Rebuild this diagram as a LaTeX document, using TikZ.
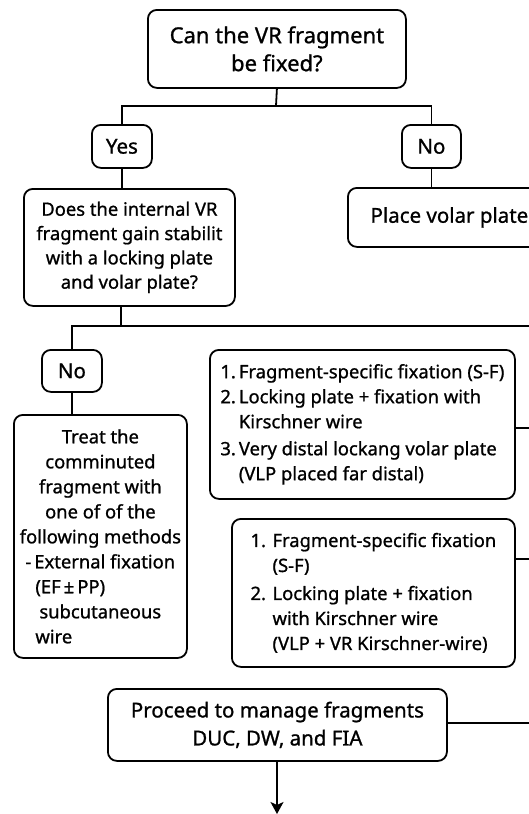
\documentclass[tikz,border=0pt]{standalone}
\usepackage{fontspec}
\setmainfont{Noto Sans}[FakeBold=1.0]
\usetikzlibrary{arrows.meta}
\begin{document}
\begin{tikzpicture}[x=1pt,y=-1pt,
  box/.style={draw, line width=1.8pt, rounded corners=9pt, inner sep=0pt, anchor=north west},
  link/.style={line width=1.8pt},
  big/.style={font=\fontsize{22}{28}\selectfont},
  mid/.style={font=\fontsize{20.5}{28}\selectfont},
  small/.style={font=\fontsize{18.4}{25}\selectfont},
]
\useasboundingbox (0,0) rectangle (529,814);
\clip (0,0) rectangle (529,814);

% decision boxes
\node[box, big, align=center, minimum width=258pt, minimum height=78pt] (top) at (147,9)
  {Can the VR fragment\\be fixed?};
\node[box, mid, minimum width=60pt, minimum height=43pt] (yes) at (91,124) {Yes};
\node[box, mid, minimum width=59pt, minimum height=43pt] (no) at (401,124) {No};
\node[box, small, align=center, minimum width=211pt, minimum height=117pt,
  font=\fontsize{18.4}{24.3}\selectfont] (does) at (23,188)
  {Does the internal VR\\fragment gain stabilit\\with a locking plate\\and volar plate?};
\node[box, mid, minimum width=203pt, minimum height=59pt] (place) at (347,187) {Place volar plate};
\node[box, mid, minimum width=60pt, minimum height=42pt] (no2) at (41,349) {No};

% treatment boxes
\node[box, small, align=center, minimum width=173pt, minimum height=243pt] (treat) at (13,414)
  {Treat the\\comminuted\\fragment with\\one of of the\\following methods\\
   \makebox[158pt][l]{\hspace*{4pt}-\hspace{3pt}External fixation}\\
   \makebox[158pt][l]{\hspace*{14pt}(EF\,±\,PP)}\\
   \makebox[158pt][l]{\hspace*{18pt}subcutaneous}\\
   \makebox[158pt][l]{\hspace*{14pt}wire}};
\node[box, small, align=left, minimum width=305pt, minimum height=149pt] (boxa) at (209,349)
  {\makebox[18.5pt][l]{1.}Fragment-specific fixation (S-F)\\
   \makebox[18.5pt][l]{2.}Locking plate + fixation with\\
   \hspace*{18.5pt}Kirschner wire\\[2pt]
   \makebox[18.5pt][l]{3.}Very distal lockang volar plate\\
   \hspace*{18.5pt}(VLP placed far distal)};
\node[box, small, align=left, minimum width=283pt, minimum height=148pt] (boxb) at (231,518)
  {\makebox[22pt][l]{1.}Fragment-specific fixation\\
   \hspace*{22pt}(S-F)\\[3pt]
   \makebox[22pt][l]{2.}Locking plate + fixation\\
   \hspace*{22pt}with Kirschner wire\\
   \hspace*{22pt}(VLP + VR Kirschner-wire)};
\node[box, mid, align=center, minimum width=339pt, minimum height=72pt] (proceed) at (107,688)
  {Proceed to manage fragments\\DUC, DW, and FIA};

% junctions and exits to the right
\coordinate (j1) at (276,106);
\coordinate (j2) at (121,326);
\coordinate (r1) at (530,326);
\coordinate (ra) at (530,428);
\coordinate (rb) at (530,559);
\coordinate (rp) at (530,723);
\coordinate (down) at (277,814);

% connectors
\draw[link] (top.south) -- (j1);
\draw[link] (yes.north) |- (j1) -| (no.north);
\draw[link] (yes.south) -- (yes.south |- does.north);
\draw[link] (no.south) -- (no.south |- place.north);
\draw[link] (does.south -| j2) -- (j2);
\draw[link] (no2.north) |- (r1);
\draw[link] (no2.south) -- (no2.south |- treat.north);
\draw[link] (boxa.east |- ra) -- (ra);
\draw[link] (boxb.east |- rb) -- (rb);
\draw[link] (proceed.east |- rp) -- (rp);
\draw[link, -{Stealth[length=12pt, width=13pt, inset=3pt]}] (proceed.south -| down) -- (down);
\end{tikzpicture}
\end{document}
